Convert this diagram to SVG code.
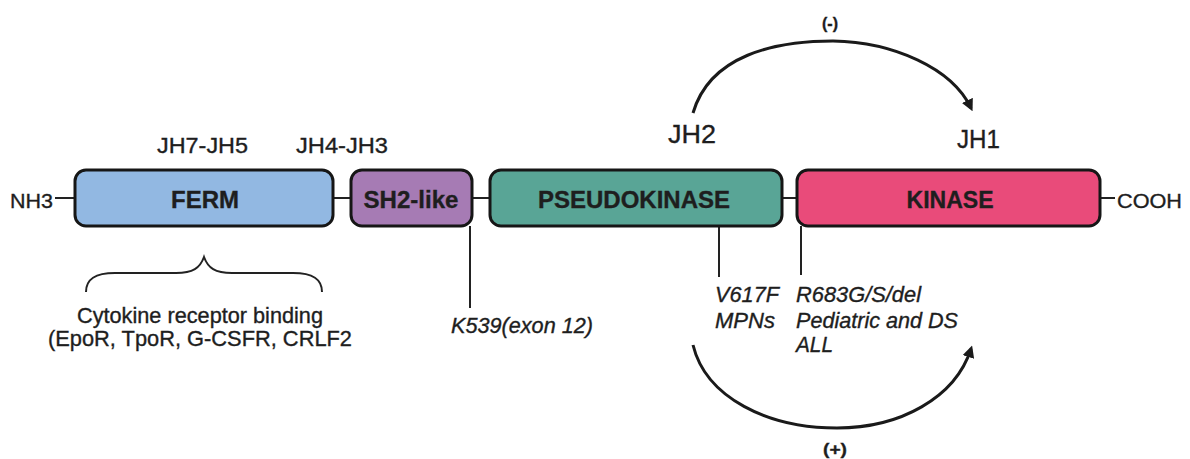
<svg xmlns="http://www.w3.org/2000/svg" width="1190" height="459" viewBox="0 0 1190 459">
<style>
text{font-family:"Liberation Sans",Arial,Helvetica,sans-serif;fill:#1e1e1e;stroke:#1e1e1e;stroke-width:0.35;}
.dom{stroke:#161616;stroke-width:3;}
.dl{font-weight:bold;font-size:24px;text-anchor:middle;}
.jh{font-size:22px;}
.jb{font-size:26px;}
.it{font-style:italic;font-size:21.5px;}
.pl{font-size:21px;}
.cy{font-size:21.5px;text-anchor:middle;}
.sign{font-weight:bold;font-size:17px;}
.ln{stroke:#222;stroke-width:2;fill:none;}
.arc{stroke:#1a1a1a;stroke-width:3;fill:none;marker-end:url(#ah);}
</style>
<defs>
<marker id="ah" viewBox="0 0 10 10" refX="7" refY="5" markerWidth="12" markerHeight="12" markerUnits="userSpaceOnUse" orient="auto">
<path d="M0,0 L10,5 L0,10 Z" fill="#1a1a1a"/>
</marker>
</defs>
<rect width="1190" height="459" fill="#fff"/>

<g id="connectors">
<line class="ln" x1="55" y1="198" x2="75" y2="198"/>
<line class="ln" x1="333" y1="198" x2="351" y2="198"/>
<line class="ln" x1="472" y1="198" x2="490" y2="198"/>
<line class="ln" x1="782" y1="198" x2="797" y2="198"/>
<line class="ln" x1="1100" y1="198" x2="1115" y2="198"/>
<line class="ln" x1="470" y1="226" x2="470" y2="308"/>
<line class="ln" x1="719" y1="226" x2="719" y2="277"/>
<line class="ln" x1="801" y1="226" x2="801" y2="275"/>
<path class="arc" d="M693,113 C710,55 775,41 833,41 C893,42 952,68 971,108"/>
<path class="arc" d="M693,345 C706,398 768,428 837,428 C900,428 955,398 971,349"/>
<path class="ln" d="M86,292 C86,279 95,273 115,273 L176,273 C193,273 200,268 204,257 C208,268 215,273 232,273 L293,273 C313,273 322,279 322,292"/>
</g>

<g id="ferm">
<rect class="dom" x="75" y="170" width="258" height="56" rx="11" fill="#92b8e2"/>
<text class="dl" x="205" y="208" textLength="68" lengthAdjust="spacingAndGlyphs">FERM</text>
</g>
<g id="sh2">
<rect class="dom" x="351" y="170" width="121" height="56" rx="11" fill="#a67bb4"/>
<text class="dl" x="411" y="208" textLength="95" lengthAdjust="spacingAndGlyphs">SH2-like</text>
</g>
<g id="pseudokinase">
<rect class="dom" x="490" y="170" width="292" height="56" rx="11" fill="#59a596"/>
<text class="dl" x="634" y="208" textLength="192" lengthAdjust="spacingAndGlyphs">PSEUDOKINASE</text>
</g>
<g id="kinase">
<rect class="dom" x="797" y="170" width="303" height="56" rx="11" fill="#e94b7a"/>
<text class="dl" x="950" y="208" textLength="87" lengthAdjust="spacingAndGlyphs">KINASE</text>
</g>

<g id="labels">
<text class="pl" x="10" y="208" textLength="43" lengthAdjust="spacingAndGlyphs">NH3</text>
<text class="pl" x="1117" y="208" textLength="65" lengthAdjust="spacingAndGlyphs">COOH</text>
<text class="jh" x="157" y="153" textLength="91" lengthAdjust="spacingAndGlyphs">JH7-JH5</text>
<text class="jh" x="296" y="153" textLength="92" lengthAdjust="spacingAndGlyphs">JH4-JH3</text>
<text class="jb" x="668" y="143" textLength="48" lengthAdjust="spacingAndGlyphs">JH2</text>
<text class="jb" x="957" y="148" textLength="43" lengthAdjust="spacingAndGlyphs">JH1</text>
<text class="sign" x="822" y="29" textLength="16" lengthAdjust="spacingAndGlyphs">(-)</text>
<text class="sign" x="823" y="455" textLength="24" lengthAdjust="spacingAndGlyphs">(+)</text>
<text class="it" x="451" y="333" textLength="142" lengthAdjust="spacingAndGlyphs">K539(exon 12)</text>
<text class="it" x="715" y="302" textLength="64" lengthAdjust="spacingAndGlyphs">V617F</text>
<text class="it" x="715" y="328" textLength="60" lengthAdjust="spacingAndGlyphs">MPNs</text>
<text class="it" x="796" y="302" textLength="125" lengthAdjust="spacingAndGlyphs">R683G/S/del</text>
<text class="it" x="796" y="328" textLength="162" lengthAdjust="spacingAndGlyphs">Pediatric and DS</text>
<text class="it" x="796" y="352" textLength="37" lengthAdjust="spacingAndGlyphs">ALL</text>
<text class="cy" x="200" y="323" textLength="246" lengthAdjust="spacingAndGlyphs">Cytokine receptor binding</text>
<text class="cy" x="200" y="346" textLength="304" lengthAdjust="spacingAndGlyphs">(EpoR, TpoR, G-CSFR, CRLF2</text>
</g>
</svg>
